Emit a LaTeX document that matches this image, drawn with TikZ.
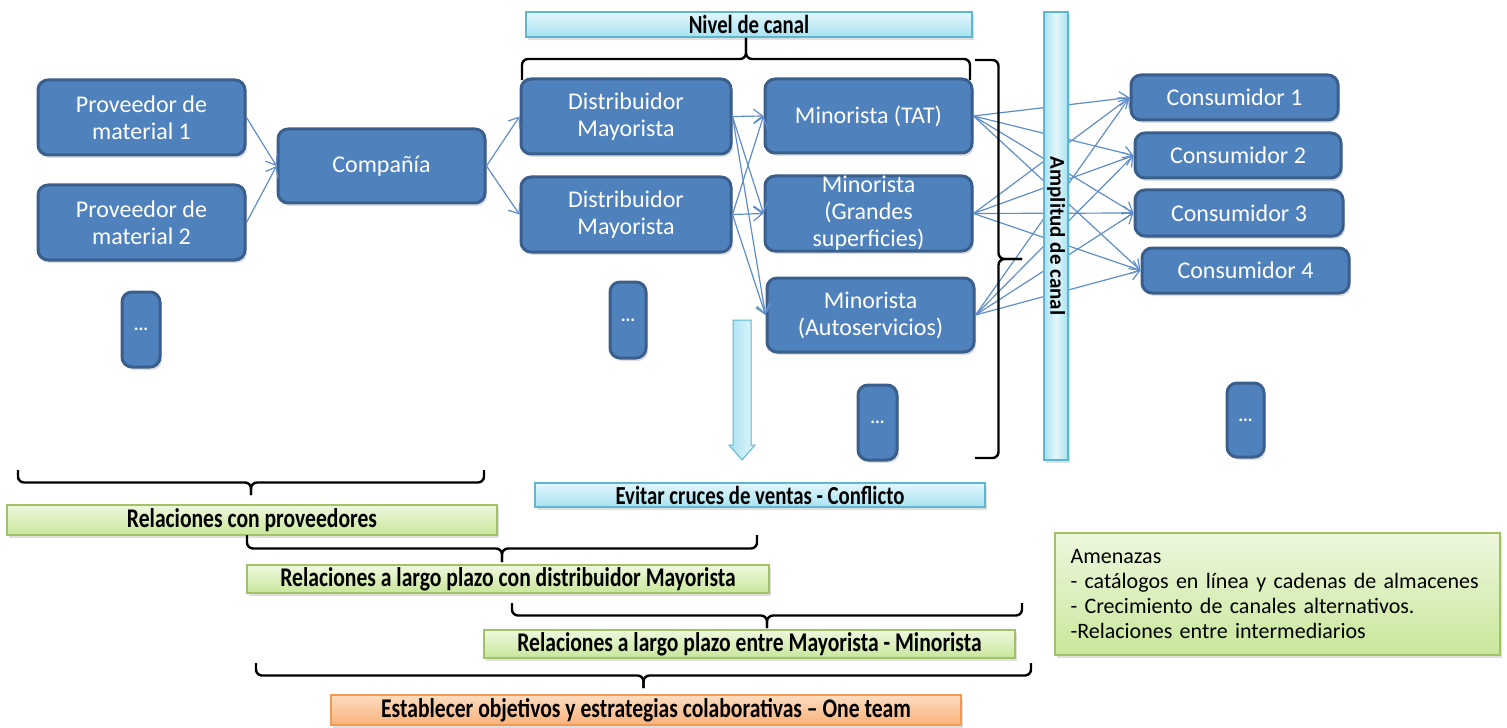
\documentclass[tikz,border=0pt]{standalone}
\usepackage{fontspec}
\setmainfont{Carlito}
\newfontfamily\narrowfont[FakeStretch=0.8]{Carlito}
\usetikzlibrary{arrows.meta,shadows}

\definecolor{boxblue}{HTML}{4F81BD}
\definecolor{boxline}{HTML}{3A5F8C}
\definecolor{linkblue}{HTML}{5F8DCA}
\definecolor{cytop}{HTML}{E2F6FC}
\definecolor{cybot}{HTML}{A8E2F2}
\definecolor{cyline}{HTML}{5FB6CF}
\definecolor{grtop}{HTML}{EEF8DE}
\definecolor{grbot}{HTML}{C8E79B}
\definecolor{grline}{HTML}{A3C167}
\definecolor{ortop}{HTML}{FDDCC0}
\definecolor{orbot}{HTML}{F9B27A}
\definecolor{orline}{HTML}{F39A52}

\tikzset{
  softshadow/.style={drop shadow={shadow xshift=1pt,shadow yshift=-1.5pt,opacity=0.25}},
  actor/.style={draw=boxline, fill=boxblue, line width=1.5pt, rounded corners=5pt,
    text=white, align=center, inner sep=0pt, softshadow,
    font=\fontsize{12}{13.5}\selectfont},
  dots/.style={actor, font=\bfseries\fontsize{9}{9}\selectfont},
  flow/.style={draw=linkblue, line width=0.6pt, -{Straight Barb[length=4.5pt,width=7pt]}},
  band/.style={draw=cyline, line width=0.7pt, top color=cytop, bottom color=cybot,
    inner sep=0pt, softshadow, font=\narrowfont\bfseries\fontsize{13}{13}\selectfont},
  link/.style={draw=grline, line width=0.7pt, top color=grtop, bottom color=grbot,
    inner sep=0pt, softshadow, font=\narrowfont\bfseries\fontsize{13.5}{13.5}\selectfont},
  goal/.style={draw=orline, line width=0.7pt, top color=ortop, bottom color=orbot,
    inner sep=0pt, softshadow, font=\narrowfont\bfseries\fontsize{13.5}{13.5}\selectfont},
  bracket/.style={draw=black, line width=1.2pt, rounded corners=3pt}
}

% horizontal brace: x1, x2, y of the ends, depth to the tip (signed)
\newcommand{\hbrace}[4]{%
  \draw[bracket] (#1,#3) -- (#1,#3+#4/2) -- ({(#1+#2)/2},#3+#4/2) -- ({(#1+#2)/2},#3+#4);
  \draw[bracket] (#2,#3) -- (#2,#3+#4/2) -- ({(#1+#2)/2},#3+#4/2) -- ({(#1+#2)/2},#3+#4);}
% vertical brace: y1, y2, x of the ends, depth to the tip (signed)
\newcommand{\vbrace}[4]{%
  \draw[bracket] (#3,#1) -- (#3+#4/2,#1) -- (#3+#4/2,{(#1+#2)/2}) -- (#3+#4,{(#1+#2)/2});
  \draw[bracket] (#3,#2) -- (#3+#4/2,#2) -- (#3+#4/2,{(#1+#2)/2}) -- (#3+#4,{(#1+#2)/2});}

\begin{document}
\begin{tikzpicture}[x=0.5pt,y=-0.5pt]
    \useasboundingbox (0,0) rectangle (1507,727);
    % Proveedores
    \node[actor, minimum width=103.5pt, minimum height=37.5pt] (prov1) at (141.5,117.5) {Proveedor de\\material 1};
    \node[actor, minimum width=103.5pt, minimum height=37.5pt] (prov2) at (141.5,222.5) {Proveedor de\\material 2};
    \node[dots, minimum width=19pt, minimum height=37.5pt] (provx) at (141,329.5) {...};
    % Company
    \node[actor, minimum width=103.5pt, minimum height=37pt] (comp) at (381.5,166) {Compañía};
    % Distribuidores
    \node[actor, minimum width=105pt, minimum height=37.5pt] (dist1) at (626,116.5) {Distribuidor\\Mayorista};
    \node[actor, minimum width=105pt, minimum height=37.5pt] (dist2) at (626,214.5) {Distribuidor\\Mayorista};
    \node[dots, minimum width=18pt, minimum height=38pt] (distx) at (628,320) {...};
    % Minoristas
    \node[actor, minimum width=103.5pt, minimum height=37pt] (tat) at (868.5,116) {Minorista (TAT)};
    \node[actor, minimum width=103.5pt, minimum height=37.5pt] (gs) at (868.5,213.5) {Minorista\\(Grandes\\superficies)};
    \node[actor, minimum width=103.5pt, minimum height=37pt] (auto) at (870.5,315) {Minorista\\(Autoservicios)};
    \node[dots, minimum width=19.5pt, minimum height=37.5pt] (minx) at (877.5,422.5) {...};
    % Consumidores
    \node[actor, minimum width=103.5pt, minimum height=22.5pt] (con1) at (1234.5,97.5) {Consumidor 1};
    \node[actor, minimum width=103pt, minimum height=22.5pt] (con2) at (1238,155.5) {Consumidor 2};
    \node[actor, minimum width=104pt, minimum height=23pt] (con3) at (1239,213) {Consumidor 3};
    \node[actor, minimum width=103.5pt, minimum height=22.5pt] (con4) at (1245.5,270.5) {Consumidor 4};
    \node[dots, minimum width=18.5pt, minimum height=37pt] (conx) at (1245.5,420) {...};

    % Flows
    \draw[flow] (prov1.east) -- (comp.west);
    \draw[flow] (prov2.east) -- (comp.west);
    \draw[flow] (comp.east) -- (dist1.west);
    \draw[flow] (comp.east) -- (dist2.west);
    \foreach \s in {dist1,dist2}
      \foreach \t in {tat,gs,auto}
        \draw[flow] (\s.east) -- (\t.west);
    \foreach \s in {tat,gs,auto}
      \foreach \t in {con1,con2,con3,con4}
        \draw[flow] (\s.east) -- (\t.west);

    % Nivel and Amplitud de canal
    \node[band, minimum width=223pt, minimum height=12.5pt] (nivel) at (749,24.5) {Nivel de canal};
    \hbrace{522}{970}{80}{-42}
    \vbrace{60}{458}{975}{47}
    \node[band, left color=cybot, right color=cybot, middle color=cytop, rotate=-90,
      minimum width=224pt, minimum height=12pt, font=\bfseries\fontsize{10.5}{10.5}\selectfont]
      (ampl) at (1056,236) {Amplitud de canal};

    % Down arrow
    \shade[left color=cybot, right color=cytop, draw=cyline, line width=0.5pt]
      (733,320) -- (751,320) -- (751,445) -- (755,445) -- (742,460) -- (729,445) -- (733,445) -- cycle;
    \node[band, minimum width=225pt, minimum height=12pt] (evitar) at (760,495) {Evitar cruces de ventas - Conflicto};

    % Relaciones
    \hbrace{18}{484}{470}{25}
    \node[link, minimum width=245pt, minimum height=15pt] (relprov) at (252,520) {Relaciones con proveedores};
    \hbrace{247}{757}{535}{27}
    \node[link, minimum width=261pt, minimum height=14pt] (reldist) at (508,579) {Relaciones a largo plazo con distribuidor Mayorista};
    \hbrace{512}{1022}{603}{25}
    \node[link, minimum width=265.5pt, minimum height=14pt] (relmin) at (749.5,644) {Relaciones a largo plazo entre Mayorista - Minorista};
    \hbrace{256}{1031}{663}{25}
    \node[goal, minimum width=315pt, minimum height=15pt] (team) at (646,710) {Establecer objetivos y estrategias colaborativas – One team};

    % Amenazas
    \node[link, font=\fontsize{11}{12.5}\selectfont, minimum width=222.5pt, minimum height=61pt,
      text width=207pt, align=left] (threats) at (1277.5,594)
      {Amenazas\\- catálogos en línea y cadenas de almacenes\\- Crecimiento de canales alternativos.\\-Relaciones entre intermediarios};
\end{tikzpicture}
\end{document}
